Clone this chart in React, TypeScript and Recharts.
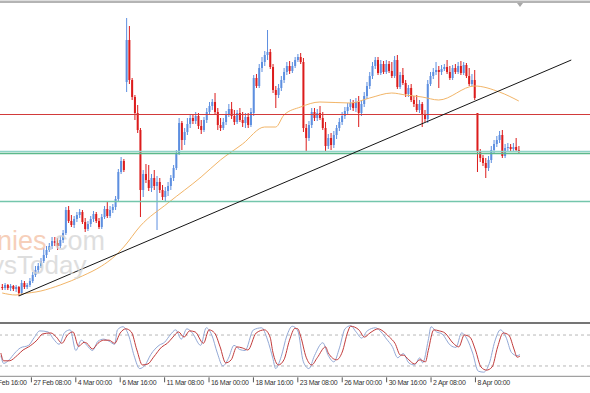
import React from 'react';
import { ComposedChart, Bar, Line, XAxis, YAxis, ReferenceLine } from 'recharts';

// H4 candles, values in chart points
const opens = [
  23, 22, 25, 22, 24, 21, 23, 17, 27, 23,
  25, 29, 35, 40, 44, 49, 55, 60, 64, 69,
  67, 64, 70, 77, 100, 89, 85, 91, 95, 98,
  88, 81, 86, 91, 96, 89, 83, 93, 101, 94,
  100, 103, 111, 138, 149, 228, 270, 230, 213, 197,
  180, 120, 136, 130, 122, 132, 124, 128, 120, 113,
  119, 124, 132, 142, 157, 187, 170, 178, 186, 192,
  189, 194, 184, 180, 190, 198, 204, 208, 198, 185,
  182, 188, 196, 201, 194, 188, 197, 190, 187, 193,
  185, 197, 232, 224, 242, 248, 255, 258, 243, 220,
  215, 222, 230, 238, 244, 239, 244, 250, 253, 248,
  182, 172, 185, 198, 192, 197, 192, 182, 164, 172,
  165, 175, 182, 188, 194, 199, 203, 207, 202, 208,
  197, 206, 214, 224, 234, 244, 250, 237, 246, 238,
  246, 239, 234, 250, 223, 235, 227, 216, 222, 210,
  206, 200, 206, 195, 191, 226, 234, 238, 240, 238,
  241, 243, 238, 232, 242, 238, 244, 237, 245, 234,
  226, 230, 197, 158, 152, 147, 142, 150, 160, 166,
  170, 175, 154, 162, 163, 161, 163, 160,
];
const highs = [
  26, 27, 26, 26, 25, 25, 24, 30, 29, 27,
  32, 38, 44, 47, 52, 62, 64, 67, 73, 73,
  72, 74, 80, 103, 104, 95, 94, 98, 101, 100,
  92, 89, 94, 99, 98, 92, 96, 104, 108, 104,
  106, 114, 141, 153, 151, 292, 284, 232, 215, 205,
  182, 140, 146, 145, 136, 140, 134, 132, 125, 123,
  128, 135, 145, 160, 192, 189, 182, 192, 196, 196,
  198, 197, 190, 193, 202, 208, 211, 217, 202, 192,
  192, 199, 206, 208, 200, 200, 202, 198, 197, 197,
  202, 235, 236, 246, 253, 259, 280, 261, 246, 224,
  226, 234, 242, 248, 249, 248, 253, 256, 257, 252,
  186, 189, 202, 202, 201, 204, 198, 188, 176, 177,
  179, 185, 192, 198, 203, 207, 211, 210, 212, 214,
  210, 218, 228, 238, 248, 253, 253, 250, 249, 250,
  249, 248, 254, 255, 238, 242, 230, 225, 226, 214,
  215, 210, 208, 200, 230, 238, 242, 248, 244, 245,
  246, 250, 244, 245, 246, 248, 249, 248, 247, 242,
  236, 240, 197, 161, 155, 152, 154, 164, 170, 174,
  179, 180, 166, 167, 166, 167, 172, 164,
];
const lows = [
  20, 20, 20, 19, 19, 18, 14, 15, 21, 21,
  23, 27, 33, 37, 42, 47, 52, 58, 61, 64,
  60, 62, 67, 75, 87, 83, 82, 88, 92, 86,
  78, 79, 83, 88, 87, 81, 81, 91, 92, 92,
  97, 100, 109, 136, 138, 218, 226, 210, 190, 177,
  93, 113, 127, 119, 118, 120, 80, 117, 110, 108,
  114, 120, 129, 140, 155, 160, 165, 175, 182, 186,
  186, 181, 176, 178, 187, 195, 200, 196, 180, 179,
  180, 185, 193, 191, 185, 186, 188, 183, 182, 182,
  183, 194, 222, 222, 238, 244, 250, 241, 217, 202,
  212, 219, 227, 235, 236, 237, 242, 248, 246, 178,
  158, 169, 182, 189, 189, 190, 180, 158, 161, 160,
  162, 171, 179, 185, 191, 196, 200, 199, 198, 183,
  194, 203, 211, 221, 231, 241, 235, 235, 236, 236,
  237, 232, 232, 221, 221, 225, 213, 213, 208, 203,
  198, 197, 183, 188, 187, 224, 231, 235, 222, 235,
  239, 236, 230, 230, 236, 236, 235, 235, 232, 224,
  224, 210, 138, 148, 144, 132, 139, 147, 157, 163,
  167, 152, 152, 159, 158, 159, 158, 156,
];
const closes = [
  22, 25, 22, 24, 21, 23, 17, 27, 23, 25,
  29, 35, 40, 44, 49, 55, 60, 64, 69, 67,
  64, 70, 77, 100, 89, 85, 91, 95, 98, 88,
  81, 86, 91, 96, 89, 83, 93, 101, 94, 100,
  103, 111, 138, 149, 140, 270, 230, 213, 197, 180,
  120, 136, 130, 122, 132, 124, 128, 120, 113, 119,
  124, 132, 142, 157, 187, 170, 178, 186, 192, 189,
  194, 184, 180, 190, 198, 204, 208, 198, 185, 182,
  188, 196, 201, 194, 188, 197, 190, 187, 193, 185,
  198, 232, 224, 242, 248, 255, 258, 243, 220, 215,
  222, 230, 238, 244, 239, 244, 250, 253, 248, 182,
  172, 185, 198, 192, 197, 192, 182, 164, 172, 165,
  175, 182, 188, 194, 199, 203, 207, 202, 208, 197,
  206, 214, 224, 234, 244, 250, 237, 246, 238, 246,
  239, 234, 250, 223, 235, 227, 216, 222, 210, 206,
  200, 206, 195, 191, 226, 234, 238, 240, 238, 241,
  243, 238, 232, 242, 238, 244, 237, 245, 234, 226,
  230, 212, 158, 152, 147, 142, 150, 160, 166, 170,
  175, 154, 162, 163, 161, 163, 160, 158,
];

// moving average, sampled at bar index
const maPts = [
  [0, 17], [5, 15], [7, 16], [14, 19], [21, 25], [29, 34], [36, 44], [40, 52],
  [44, 63], [50, 84], [60, 107], [72, 133], [79, 150], [87, 166], [95, 183],
  [99, 183], [102, 195], [108, 203], [115, 208], [126, 207], [133, 212],
  [141, 217], [146, 215], [152, 213], [158, 210], [171, 224], [180, 218], [187, 209],
];

// stochastic %K (main) and %D (signal)
const stochK = [
  [0, 40], [1, 25], [3, 32], [5, 45], [7, 55], [10, 60], [12, 75], [14, 88], [17, 86],
  [19, 72], [21, 62], [23, 85], [25, 90], [27, 50], [29, 70], [31, 60], [33, 50],
  [35, 68], [37, 72], [39, 68], [41, 62], [42, 90], [44, 96], [46, 80], [48, 40],
  [50, 15], [52, 22], [54, 42], [57, 60], [59, 66], [61, 80], [63, 90], [65, 72],
  [67, 92], [69, 84], [72, 60], [74, 94], [76, 80], [78, 45], [80, 20], [82, 35],
  [84, 60], [86, 52], [88, 50], [91, 90], [94, 94], [96, 72], [98, 35], [99, 15],
  [101, 38], [103, 78], [105, 97], [107, 88], [109, 28], [111, 15], [113, 40],
  [116, 65], [118, 40], [120, 28], [122, 55], [124, 92], [126, 98], [128, 86],
  [130, 74], [132, 88], [135, 94], [137, 86], [139, 72], [141, 58], [143, 36],
  [145, 44], [147, 26], [149, 22], [151, 36], [152, 26], [154, 70], [155, 96],
  [157, 86], [159, 82], [162, 60], [164, 56], [166, 84], [168, 72], [170, 45],
  [172, 10], [174, 8], [176, 25], [178, 68], [180, 90], [182, 76], [184, 46],
  [186, 40], [187, 42],
];
const stochD = [
  [0, 45], [1, 30], [3, 30], [6, 41], [8, 51], [10, 57], [13, 70], [15, 82], [18, 84],
  [20, 76], [22, 64], [24, 80], [26, 86], [28, 58], [30, 66], [31, 64], [33, 53],
  [35, 64], [37, 70], [39, 70], [41, 64], [43, 84], [45, 92], [47, 86], [49, 51],
  [51, 22], [53, 24], [55, 37], [58, 57], [60, 64], [62, 76], [64, 86], [66, 76],
  [68, 88], [70, 86], [73, 64], [75, 90], [77, 84], [79, 57], [81, 26], [83, 32],
  [85, 57], [87, 55], [89, 51], [92, 84], [95, 90], [97, 76], [98, 47], [100, 22],
  [102, 32], [104, 70], [106, 93], [107, 92], [108, 78], [110, 37], [112, 22],
  [114, 36], [117, 57], [118, 45], [121, 32], [123, 47], [125, 86], [126, 97],
  [129, 90], [131, 76], [133, 84], [136, 92], [137, 90], [140, 76], [142, 64],
  [144, 41], [145, 41], [147, 32], [149, 24], [151, 32], [153, 28], [154, 50],
  [156, 90], [158, 88], [160, 84], [163, 64], [165, 57], [167, 80], [169, 76],
  [171, 51], [173, 18], [175, 12], [177, 18], [179, 57], [181, 84], [183, 80],
  [185, 51], [186, 37], [187, 39],
];

const tickIdx = [-5, 11, 27, 43, 59, 75, 91, 107, 123, 139, 155, 171];
const tickLabels = [
  '24 Feb 16:00', '27 Feb 08:00', '4 Mar 00:00', '6 Mar 16:00', '11 Mar 08:00',
  '16 Mar 00:00', '18 Mar 16:00', '23 Mar 08:00', '26 Mar 00:00', '30 Mar 16:00',
  '2 Apr 08:00', '8 Apr 00:00',
];

const resistance = 195.5;
const supportA = 158.5;
const supportB = 156.5;
const supportC = 108.5;
const trendFrom = { x: 6, y: 14 };
const trendTo = { x: 206, y: 250 };

const FIRST = -5;
const LAST = 213;
const CHART_W = 605;
const CHART_LEFT = -13.3;

const BLUE = '#5d8fe0';
const RED = '#dc1c1c';

const buildRows = () => {
  const rows: any[] = [];
  for (let i = FIRST; i <= LAST; i++) {
    const r: any = { idx: i };
    if (i >= 0 && i < closes.length) {
      r.open = opens[i];
      r.high = highs[i];
      r.low = lows[i];
      r.close = closes[i];
      r.range = [lows[i], highs[i]];
    }
    rows.push(r);
  }
  maPts.forEach(([i, v]) => (rows[i - FIRST].ma = v));
  stochK.forEach(([i, v]) => (rows[i - FIRST].k = v));
  stochD.forEach(([i, v]) => (rows[i - FIRST].d = v));
  return rows;
};
const rows = buildRows();

const Candle = (props: any) => {
  const { x, y, width, height, payload } = props;
  if (!payload || payload.open == null) return null;
  const top = Math.min(y, y + height);
  const h = Math.abs(height);
  const { open, close, high, low } = payload;
  const k = h / (high - low);
  const yo = top + (high - open) * k;
  const yc = top + (high - close) * k;
  const cx = x + width / 2;
  const color = close >= open ? BLUE : RED;
  const bTop = Math.min(yo, yc);
  const bH = Math.max(Math.abs(yo - yc), 1);
  return (
    <g>
      <rect x={cx - 0.5} y={top} width={1} height={h} fill={color} />
      <rect x={cx - 1} y={bTop} width={2} height={bH} fill={color} />
    </g>
  );
};

const DateTick = (props: any) => {
  const { x, y, payload } = props;
  const label = tickLabels[tickIdx.indexOf(payload.value)];
  return (
    <g>
      <line x1={x} x2={x} y1={y + 1} y2={y + 6} stroke="#555" />
      <text
        x={x + 2}
        y={y + 9}
        fontSize={7}
        letterSpacing={-0.3}
        fill="#333"
        textAnchor="start"
        fontFamily="'Liberation Sans', Arial, sans-serif"
      >
        {label}
      </text>
    </g>
  );
};

export default function App() {
  return (
    <div
      style={{
        position: 'absolute',
        left: 0,
        top: 0,
        width: 590,
        height: 393,
        overflow: 'hidden',
        background: '#fff',
      }}
    >
      <div style={{ position: 'absolute', left: CHART_LEFT, top: 0 }}>
        <ComposedChart
          width={CHART_W}
          height={310}
          data={rows}
          margin={{ top: 0, right: 0, bottom: 0, left: 0 }}
          barCategoryGap={0}
          barGap={0}
        >
          <XAxis dataKey="idx" type="category" hide />
          <YAxis type="number" domain={[0, 310]} hide />
          <Bar dataKey="range" shape={(p: any) => <Candle {...p} />} isAnimationActive={false} />
          <Line
            dataKey="ma"
            type="monotone"
            stroke="#f2b568"
            strokeWidth={1}
            dot={false}
            connectNulls
            isAnimationActive={false}
          />
          <ReferenceLine y={resistance} stroke="#d23a3a" strokeWidth={1} />
          <ReferenceLine y={supportA} stroke="#8fd3c8" strokeWidth={1.3} />
          <ReferenceLine y={supportB} stroke="#5cb98a" strokeWidth={1.3} />
          <ReferenceLine y={supportC} stroke="#74c6ac" strokeWidth={1.6} />
          <ReferenceLine segment={[trendFrom, trendTo]} stroke="#151515" strokeWidth={1} />
        </ComposedChart>
      </div>

      <div style={{ position: 'absolute', left: CHART_LEFT, top: 320 }}>
        <ComposedChart
          width={CHART_W}
          height={73}
          data={rows}
          margin={{ top: 4.7, right: 0, bottom: 0, left: 0 }}
        >
          <XAxis
            dataKey="idx"
            type="category"
            ticks={tickIdx}
            interval={0}
            tick={(p: any) => <DateTick {...p} />}
            tickLine={false}
            tickSize={0}
            tickMargin={0}
            height={16.7}
            axisLine={{ stroke: '#8a8a8a' }}
          />
          <YAxis type="number" domain={[0, 100]} hide />
          <ReferenceLine y={80} stroke="#b8b8b8" strokeDasharray="3 3" />
          <ReferenceLine y={20} stroke="#b8b8b8" strokeDasharray="3 3" />
          <Line
            dataKey="k"
            type="monotone"
            stroke="#93a9d6"
            strokeWidth={1}
            dot={false}
            connectNulls
            isAnimationActive={false}
          />
          <Line
            dataKey="d"
            type="monotone"
            stroke="#c23b3b"
            strokeWidth={1}
            dot={false}
            connectNulls
            isAnimationActive={false}
          />
        </ComposedChart>
      </div>

      {/* window frame bits */}
      <div style={{ position: 'absolute', left: 0, top: 0, width: 590, height: 1, background: '#dedede' }} />
      <div style={{ position: 'absolute', left: 0, top: 1, width: 590, height: 2, background: '#b4b4b4' }} />
      <div
        style={{
          position: 'absolute',
          left: 517,
          top: 3,
          width: 0,
          height: 0,
          borderLeft: '3px solid transparent',
          borderRight: '3px solid transparent',
          borderTop: '4px solid #a8a8a8',
        }}
      />
      <div style={{ position: 'absolute', left: 0, top: 322, width: 590, height: 2, background: '#757575' }} />

      {/* watermark */}
      <svg
        width={590}
        height={393}
        style={{ position: 'absolute', left: 0, top: 0, pointerEvents: 'none' }}
      >
        <text x={-3} y={250} fontSize={27} fontFamily="'Liberation Sans', Arial, sans-serif" opacity={0.75}>
          <tspan fill="#f4bfa4">nies</tspan>
          <tspan fill="#d4d4d4">.com</tspan>
        </text>
        <text x={-9} y={274} fontSize={26} fill="#d4d4d4" fontFamily="'Liberation Sans', Arial, sans-serif" opacity={0.75}>
          ysToday
        </text>
      </svg>
    </div>
  );
}
